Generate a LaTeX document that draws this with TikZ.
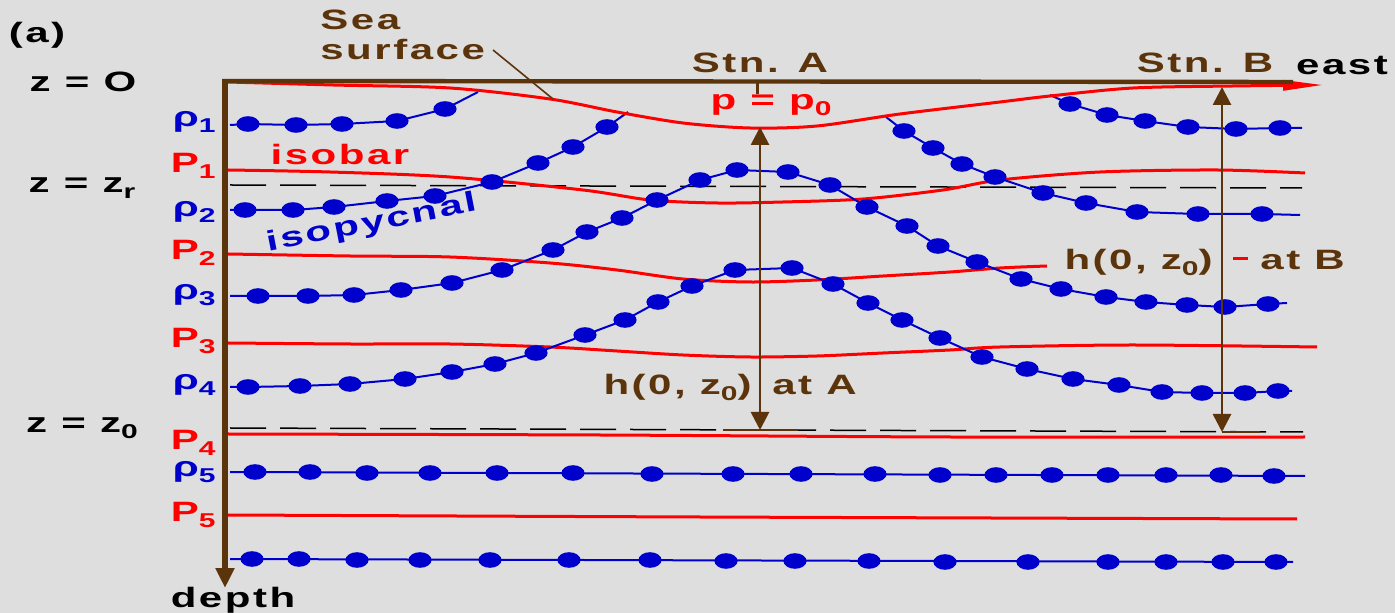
\documentclass[tikz,border=0pt]{standalone}
\usepackage{fontspec}
\setmainfont{Liberation Sans}[FakeStretch=1.5,LetterSpace=9]
\usetikzlibrary{arrows.meta}
\definecolor{bgc}{RGB}{222,222,222}
\definecolor{brownc}{RGB}{92,52,12}
\definecolor{bluec}{RGB}{0,0,205}
\definecolor{redc}{RGB}{255,0,0}
\newcommand\lowsub[1]{\raisebox{-0.35ex}{\fontsize{10pt}{10pt}\selectfont #1}}
\newcommand\isodots[1]{\foreach \xx/\yy in {#1}{\fill[bluec] (\xx,\yy) ellipse [x radius=5.8pt, y radius=3.9pt];}}
\begin{document}
\begin{tikzpicture}[x=0.5pt,y=-0.5pt,
  every node/.style={font=\bfseries\fontsize{14pt}{16pt}\selectfont, inner sep=0pt},
  isol/.style={bluec, line width=1pt, line join=round},
  isob/.style={redc, line width=1.5pt},
  zline/.style={black, line width=0.75pt, dash pattern=on 18pt off 7pt},
  axisl/.style={brownc, line width=3pt},
  stnarrow/.style={brownc, line width=1.4pt, {Triangle[length=9pt,width=9pt]}-{Triangle[length=9pt,width=9pt]}},
  bl/.style={text=bluec, anchor=base east},
  rd/.style={text=redc, anchor=base east},
  bk/.style={text=black, anchor=base},
  br/.style={text=brownc}]
\fill[bgc] (0,0) rectangle (1395,613);
\useasboundingbox (0,0) rectangle (1395,613);

% dashed reference levels
\coordinate (zrL) at (230,185); \coordinate (zrR) at (1302,188);
\coordinate (zoL) at (230,428); \coordinate (zoR) at (1303,432);
\draw[zline] (zrL) -- (zrR);
\draw[zline] (zoL) -- (zoR);

% isobars
\draw[isob] plot[smooth] coordinates {(228,170) (330,172) (450,177) (583,190) (650,200) (717,203) (783,202) (863,199) (943,190) (1000,180) (1100,172) (1217,170) (1305,173)};
\draw[isob] plot[smooth] coordinates {(228,254) (350,256) (450,257) (550,263) (617,270) (683,279) (750,282) (817,280) (883,276) (950,272) (1000,268) (1047,266)};
\draw[isob] (1233,259) -- (1248,259);
\draw[isob] plot[smooth] coordinates {(228,343) (350,344) (450,344) (550,347) (617,351) (683,355) (750,357) (817,356) (883,353) (950,350) (1000,347) (1133,345) (1317,347)};
\draw[isob] plot[smooth] coordinates {(228,434) (600,435) (950,437) (1305,437)};
\draw[isob] plot[smooth] coordinates {(228,515) (700,517) (1297,519)};

% isopycnals
\draw[isol] plot coordinates {(230,125) (248,124) (296,125) (342,124) (397,121) (445,109) (478,92)};
\isodots{248/124,296/125,342/124,397/121,445/109}
\draw[isol] plot coordinates {(1050,95) (1070,104) (1107,115) (1145,121) (1188,127) (1236,129) (1280,128) (1302,128)};
\isodots{1070/104,1107/115,1145/121,1188/127,1236/129,1280/128}

\draw[isol] plot coordinates {(230,210) (245,210) (293,210) (334,207) (387,201) (435,196) (492,182) (538,163) (573,147) (607,127) (628,112)};
\isodots{245/210,293/210,334/207,387/201,435/196,492/182,538/163,573/147,607/127}
\draw[isol] plot coordinates {(886,117) (904,131) (933,148) (962,164) (995,177) (1043,193) (1086,203) (1137,212) (1198,214) (1262,214) (1300,215)};
\isodots{904/131,933/148,962/164,995/177,1043/193,1086/203,1137/212,1198/214,1262/214}

\draw[isol] plot coordinates {(230,296) (258,296) (308,296) (354,295) (401,290) (452,283) (502,270) (553,250) (587,232) (622,218) (657,200) (700,180) (737,170) (788,172) (830,185) (867,207) (907,226) (938,246) (977,262) (1021,279) (1061,289) (1106,297) (1146,302) (1187,305) (1225,307) (1268,304) (1287,303)};
\isodots{258/296,308/296,354/295,401/290,452/283,502/270,553/250,587/232,622/218,657/200,700/180,737/170,788/172,830/185,867/207,907/226,938/246,977/262,1021/279,1061/289,1106/297,1146/302,1187/305,1225/307,1268/304}

\draw[isol] plot coordinates {(230,387) (248,387) (300,386) (350,384) (405,379) (452,372) (495,364) (536,353) (585,335) (625,320) (658,302) (692,286) (735,270) (792,268) (833,284) (868,303) (902,320) (940,338) (982,357) (1027,369) (1073,379) (1119,385) (1162,392) (1202,393) (1245,393) (1278,391) (1292,391)};
\isodots{248/387,300/386,350/384,405/379,452/372,495/364,536/353,585/335,625/320,658/302,692/286,735/270,792/268,833/284,868/303,902/320,940/338,982/357,1027/369,1073/379,1119/385,1162/392,1202/393,1245/393,1278/391}

\draw[isol] (230,472) -- (1305,476);
\isodots{255/472,310/472,367/473,430/473,497/473,573/473,652/474,733/474,801/474,875/474,940/475,996/475,1052/475,1108/475,1166/475,1221/475,1274/476}
\draw[isol] (230,559) -- (1293,562);
\isodots{252/559,299/559,357/560,420/560,490/560,569/560,650/560,726/561,795/561,869/561,945/562,1028/562,1108/562,1166/562,1223/562,1276/562}

% sea surface
\draw[isob, -{Triangle[length=20pt,width=5pt]}] plot[smooth] coordinates {(228,82) (333,85) (450,88) (550,99) (617,112) (683,123) (750,128) (817,126) (900,114) (1000,102) (1050,96) (1133,88) (1233,86) (1323,85)};

% axes
\coordinate (O) at (225,81);
\coordinate (eastEnd) at (1293,82);
\coordinate (depthEnd) at (225,588);
\draw[brownc, line width=2.2pt] (222,81) -- (eastEnd);
\draw[axisl, -{Triangle[length=10pt,width=9pt]}] (O) -- (depthEnd);

% station marks and arrows
\coordinate (aTick) at (757,81); \coordinate (aTickB) at (757,94);
\draw[brownc, line width=1.5pt] (aTick) -- (aTickB);
\coordinate (aTop) at (760,127); \coordinate (aBot) at (760,430);
\coordinate (bTop) at (1222,87); \coordinate (bBot) at (1222,432);
\draw[stnarrow] (aTop) -- (aBot);
\draw[stnarrow] (bTop) -- (bBot);
\coordinate (aL) at (723,430); \coordinate (aR) at (798,430);
\coordinate (bL) at (1222,432); \coordinate (bR) at (1260,432);
\draw[brownc, line width=1pt] (aL) -- (aR);
\draw[brownc, line width=1pt] (bL) -- (bR);

% sea surface leader
\coordinate (leadA) at (493,50); \coordinate (leadB) at (553,99);
\draw[brownc, line width=0.8pt] (leadA) -- (leadB);

% texts
\node[bk] (lbla) at (37,43) {(a)};
\node[bk] (z0) at (83,92) {z = O};
\node[bk] (zr) at (82,193) {z = z\lowsub{r}};
\node[bk] (zo) at (82,433) {z = z\lowsub{0}};
\node[bk] (depth) at (233,607) {depth};
\node[br, anchor=base west] (sea) at (320,30) {Sea};
\node[br, anchor=base west] (surf) at (320,60) {surface};
\node[br, anchor=base] (stnA) at (760,73) {Stn. A};
\node[br, anchor=base] (stnB) at (1205,73) {Stn. B};
\node[bk] (east) at (1342,75) {east};
\node[text=redc, anchor=base] (pp0) at (771,110) {p = p\lowsub{0}};
\node[text=redc, anchor=base] (isobar) at (340,165) {isobar};
\node[text=bluec, rotate=11] (isopyc) at (372,224) {isopycnal};
\node[br, anchor=base east] (hA) at (752,395) {h(0, z\lowsub{0})};
\node[br, anchor=base west] (atA) at (772,395) {at A};
\node[br, anchor=base east] (hB) at (1213,270) {h(0, z\lowsub{0})};
\node[br, anchor=base west] (atB) at (1260,270) {at B};

\node[bl] (r1) at (216,127) {ρ\lowsub{1}};
\node[bl] (r2) at (216,217) {ρ\lowsub{2}};
\node[bl] (r3) at (216,300) {ρ\lowsub{3}};
\node[bl] (r4) at (216,390) {ρ\lowsub{4}};
\node[bl] (r5) at (216,477) {ρ\lowsub{5}};
\node[rd] (p1) at (216,173) {P\lowsub{1}};
\node[rd] (p2) at (216,260) {P\lowsub{2}};
\node[rd] (p3) at (216,348) {P\lowsub{3}};
\node[rd] (p4) at (216,450) {P\lowsub{4}};
\node[rd] (p5) at (216,522) {P\lowsub{5}};
\end{tikzpicture}
\end{document}
